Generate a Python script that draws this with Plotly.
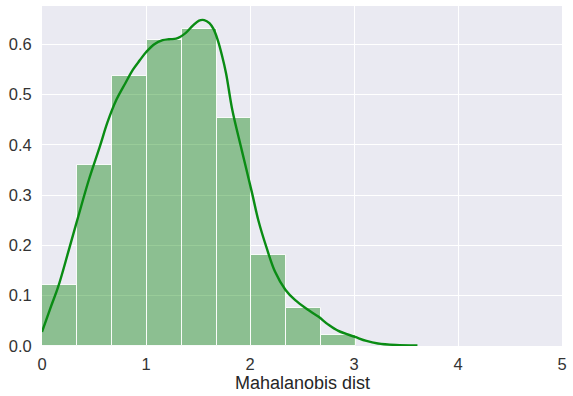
import plotly.graph_objects as go

# Histogram (density) bins
bin_edges = [0.0, 0.336, 0.671, 1.007, 1.343, 1.678, 2.014, 2.350, 2.685, 3.021]
bin_density = [0.121, 0.360, 0.537, 0.608, 0.630, 0.453, 0.181, 0.075, 0.022]

# KDE curve
kde_x = [0.0, 0.08, 0.156, 0.25, 0.348, 0.45, 0.555, 0.63, 0.714, 0.80, 0.873, 0.94, 1.0, 1.08, 1.16,
         1.22, 1.29, 1.38, 1.45, 1.51, 1.56, 1.61, 1.65, 1.69, 1.73, 1.77, 1.83, 1.92, 2.02, 2.08,
         2.16, 2.24, 2.34, 2.435, 2.55, 2.66, 2.75, 2.85, 3.01, 3.12, 3.23, 3.40, 3.61]
kde_y = [0.028, 0.075, 0.118, 0.185, 0.257, 0.33, 0.396, 0.445, 0.489, 0.522, 0.549, 0.568, 0.584, 0.600, 0.608,
         0.610, 0.611, 0.622, 0.637, 0.647, 0.648, 0.642, 0.630, 0.608, 0.578, 0.542, 0.469, 0.390, 0.304, 0.25,
         0.195, 0.148, 0.112, 0.091, 0.073, 0.058, 0.043, 0.030, 0.018, 0.010, 0.005, 0.002, 0.001]

x_ticks = [0, 1, 2, 3, 4, 5]
y_ticks = [0.0, 0.1, 0.2, 0.3, 0.4, 0.5, 0.6]
x_title = "Mahalanobis dist"

centers = [(a + b) / 2 for a, b in zip(bin_edges[:-1], bin_edges[1:])]
widths = [b - a for a, b in zip(bin_edges[:-1], bin_edges[1:])]

fig = go.Figure()
fig.add_trace(go.Bar(
    x=centers, y=bin_density, width=widths,
    marker=dict(color="rgba(0,128,0,0.4)", line=dict(color="rgba(255,255,255,0.9)", width=1)),
    showlegend=False, hoverinfo="skip"))
fig.add_trace(go.Scatter(
    x=kde_x, y=kde_y, mode="lines", line=dict(color="rgb(10,140,20)", width=2.4, shape="spline"),
    showlegend=False))

font_family = "Liberation Sans, Arial, sans-serif"
fig.update_layout(
    width=573, height=396,
    margin=dict(l=42, r=6, t=6, b=50),
    paper_bgcolor="white", plot_bgcolor="#EAEAF2",
    bargap=0,
    font=dict(family=font_family, size=16.5, color="#333333"),
    xaxis=dict(range=[0, 5], tickvals=x_ticks, ticktext=[str(v) for v in x_ticks],
               showgrid=True, gridcolor="white", gridwidth=1.2, zeroline=False,
               showline=False, ticks="outside", ticklen=3, tickcolor="rgba(0,0,0,0)",
               tickfont=dict(size=16.5)),
    yaxis=dict(range=[0, 0.676], tickvals=y_ticks, ticktext=[f"{v:.1f}" for v in y_ticks],
               showgrid=True, gridcolor="white", gridwidth=1.2, zeroline=False,
               showline=False, ticks="outside", ticklen=6, tickcolor="rgba(0,0,0,0)",
               tickfont=dict(size=16.5)),
    annotations=[dict(text=x_title, xref="paper", yref="paper", x=0.5, y=-0.108,
                      xanchor="center", yanchor="middle", showarrow=False,
                      font=dict(size=18, color="#262626"))],
)

fig.write_html("out.html")
